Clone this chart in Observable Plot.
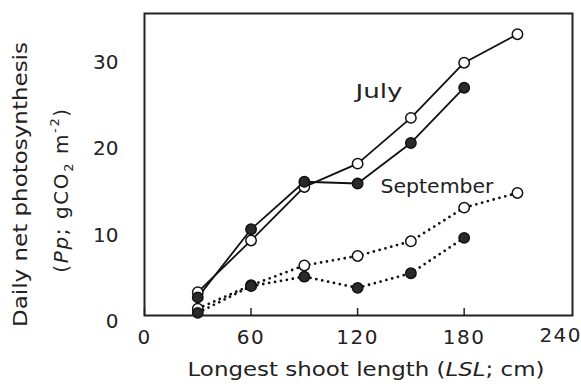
<!DOCTYPE html>
<html>
<head>
<meta charset="utf-8">
<script src="https://cdn.jsdelivr.net/npm/d3@7"></script>
<script src="https://cdn.jsdelivr.net/npm/@observablehq/plot@0.6"></script>
<style>
  html, body { margin: 0; padding: 0; background: #fff; }
  svg { font-family: "DejaVu Sans", sans-serif; }
</style>
</head>
<body>
<div id="chart"></div>
<script>
// Longest shoot length (cm) at which each measurement was taken
const lsl = [30, 60, 90, 120, 150, 180, 210];

// Daily net photosynthesis Pp (gCO2 m-2), two stand types per month
const julyOpen     = [2.7, 8.7, 14.9, 17.6, 22.9, 29.3, 32.6];
const julyFilled   = [2.1, 10.0, 15.5, 15.3, 20.0, 26.4];
const septOpen     = [0.8, 3.5, 5.8, 6.9, 8.6, 12.5, 14.2];
const septFilled   = [0.3, 3.4, 4.5, 3.2, 4.9, 9.0];

const xTicks = [0, 60, 120, 180, 240];
const yTicks = [0, 10, 20, 30];

// In-plot month labels (data coordinates of the label's left edge)
const monthLabels = ["July", "September"];
const monthLabelX = [118.8, 132.9];
const monthLabelY = [25.9, 14.9];

const toRows = (vals, month, kind) =>
  vals.map((v, i) => ({x: lsl[i], y: v, month, kind}));

const series = [
  toRows(julyOpen, "July", "open"),
  toRows(julyFilled, "July", "filled"),
  toRows(septOpen, "September", "open"),
  toRows(septFilled, "September", "filled")
];
const labels = monthLabels.map((t, i) => ({text: t, x: monthLabelX[i], y: monthLabelY[i]}));

const lineMark = rows => rows[0].month === "July"
  ? Plot.line(rows, {x: "x", y: "y", stroke: "#111", strokeWidth: 1.8})
  : Plot.line(rows, {x: "x", y: "y", stroke: "#111", strokeWidth: 2.8,
      strokeDasharray: "0 6", strokeLinecap: "round"});

const dotMark = rows => Plot.dot(rows, {
  x: "x", y: "y", r: 5.2,
  fill: rows[0].kind === "open" ? "#fff" : "#2a2a2a",
  stroke: "#111", strokeWidth: 1.5
});

const plot = Plot.plot({
  width: 581,
  height: 387,
  marginLeft: 144,
  marginRight: 9,
  marginTop: 13,
  marginBottom: 72,
  style: {fontFamily: "DejaVu Sans, sans-serif", fontSize: "20px", color: "#222", background: "#fff"},
  x: {domain: [0, 241], label: null},
  y: {domain: [0, 35], label: null},
  marks: [
    // tick marks point into the frame; the last label sits inside the right edge
    Plot.axisX({ticks: xTicks.slice(0, -1), tickSize: -7, tickPadding: 21, stroke: "#222",
      strokeWidth: 1.5, fontSize: 20, label: null}),
    Plot.axisX({ticks: xTicks.slice(-1), tickSize: 0, tickPadding: 16, dx: -10, dy: -4,
      fontSize: 20, label: null}),
    Plot.axisY({ticks: yTicks, tickSize: 0, tickPadding: 26, dy: 6, fontSize: 20, label: null}),
    ...series.map(lineMark),
    ...series.map(dotMark),
    Plot.text(labels, {x: "x", y: "y", text: "text", fontSize: 20, fill: "#222",
      textAnchor: "start"}),
    Plot.frame({stroke: "#222", strokeWidth: 2})
  ]
});

document.getElementById("chart").append(plot);

const svg = d3.select(plot);

// Wider lettering for the tick labels and month labels
svg.selectAll('g[aria-label="x-axis tick label"] text').attr("letter-spacing", 1.5);
const monthWidths = [47, 113];
svg.selectAll('g[aria-label="text"] text').each(function(d, i) {
  d3.select(this).attr("textLength", monthWidths[i]).attr("lengthAdjust", "spacingAndGlyphs");
});

// Axis titles with italic symbols and sub/superscripts
const xt = svg.append("text")
  .attr("x", 366).attr("y", 376)
  .attr("text-anchor", "middle")
  .attr("font-size", 19).attr("fill", "#222")
  .attr("textLength", 357).attr("lengthAdjust", "spacingAndGlyphs");
xt.append("tspan").text("Longest shoot length (");
xt.append("tspan").attr("font-style", "italic").text("LSL");
xt.append("tspan").text("; cm)");

svg.append("text")
  .attr("transform", "translate(27,184.5) rotate(-90)")
  .attr("text-anchor", "middle")
  .attr("font-size", 19).attr("fill", "#222")
  .attr("textLength", 285).attr("lengthAdjust", "spacingAndGlyphs")
  .text("Daily net photosynthesis");

const yt2 = svg.append("text")
  .attr("transform", "translate(68,190) rotate(-90)")
  .attr("text-anchor", "middle")
  .attr("font-size", 20).attr("letter-spacing", 1.6).attr("fill", "#222");
yt2.append("tspan").text("(");
yt2.append("tspan").attr("font-style", "italic").text("Pp");
yt2.append("tspan").text("; gCO");
yt2.append("tspan").attr("font-size", 13).attr("dy", 5).text("2");
yt2.append("tspan").attr("dy", -5).text(" m");
yt2.append("tspan").attr("font-size", 13).attr("dy", -9).text("-2");
yt2.append("tspan").attr("dy", 9).text(")");
</script>
</body>
</html>
